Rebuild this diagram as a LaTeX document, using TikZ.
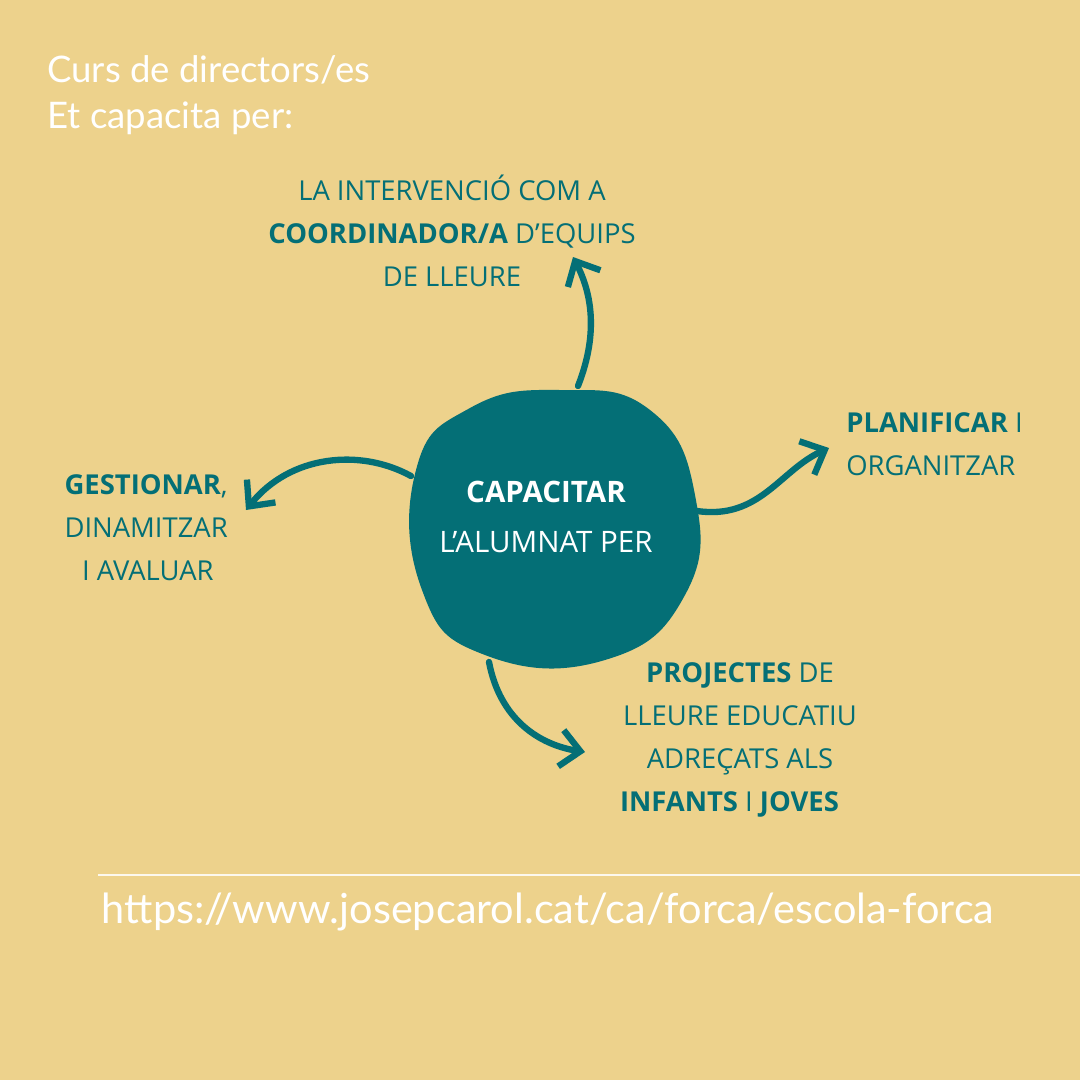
\documentclass[tikz,border=0pt]{standalone}
\usepackage{fontspec}
\setmainfont{Open Sans}
\newfontfamily\titlefont{Lato}
\usetikzlibrary{arrows.meta}
\definecolor{sand}{HTML}{EDD28C}
\definecolor{teal}{HTML}{046F76}
\newcommand{\apos}{{\char"0027}}
\tikzset{
  label/.style={text=teal, font=\fontsize{19.5}{30.5}\selectfont, inner sep=0pt},
  arrow/.style={draw=teal, line width=4.5pt, line cap=round, -{Straight Barb[length=14pt,width=26pt,line width=4.5pt]}},
  title/.style={text=white, font=\titlefont\fontsize{26}{33}\selectfont, inner sep=0pt}
}
\begin{document}
\begin{tikzpicture}[x=0.025cm,y=-0.025cm]
\fill[sand] (0,0) rectangle (1080,1080);
\useasboundingbox (0,0) rectangle (1080,1080);
% titol
\node (title) [title, anchor=north west, align=left] at (47,55) {Curs de directors/es\\Et capacita per:};
% centre
\fill[teal] plot[smooth cycle, tension=0.8] coordinates {(560,390) (650,410) (695,495) (685,595) (605,660) (485,655) (422,590) (416,470) (470,408)};
\node (centre) [text=white, font=\fontsize{21}{36}\selectfont, align=center] at (546,517) {\textbf{CAPACITAR}\\L\apos ALUMNAT PER};
% etiquetes
\node (coord) [label, align=center] at (452,231) {LA INTERVENCIÓ COM A\\\textbf{COORDINADOR/A} D\apos EQUIPS\\DE LLEURE};
\node (plan) [label, align=left, anchor=west] at (846,444) {\textbf{PLANIFICAR} I\\ORGANITZAR};
\node (gest) [label, align=right, anchor=east] at (228,528) {\textbf{GESTIONAR},\\DINAMITZAR\\I AVALUAR\hspace*{10pt}};
\node (proj) [label, align=center] at (740,740) {\textbf{PROJECTES} DE\\LLEURE EDUCATIU\\ADREÇATS ALS\\\textbf{INFANTS} I \textbf{JOVES}\hspace*{15pt}};
% fletxes
\coordinate (up0) at (578,386);
\coordinate (up1) at (573,257);
\coordinate (le0) at (411,476);
\coordinate (le1) at (246,510);
\coordinate (ri0) at (697,511);
\coordinate (ri1) at (829,448);
\coordinate (do0) at (489,662);
\coordinate (do1) at (585,752);
\draw[arrow] (up0) .. controls (600,330) and (590,290) .. (up1);
\draw[arrow] (le0) .. controls (360,448) and (290,455) .. (le1);
\draw[arrow] (ri0) .. controls (760,520) and (780,470) .. (ri1);
\draw[arrow] (do0) .. controls (500,720) and (540,745) .. (do1);
% peu
\draw[white!85!sand, line width=1pt] (98,875) -- (1080,875);
\node (url) [title, font=\titlefont\fontsize{29.5}{33}\selectfont] at (548,912) {https://www.josepcarol.cat/ca/forca/escola-forca};
\end{tikzpicture}
\end{document}
